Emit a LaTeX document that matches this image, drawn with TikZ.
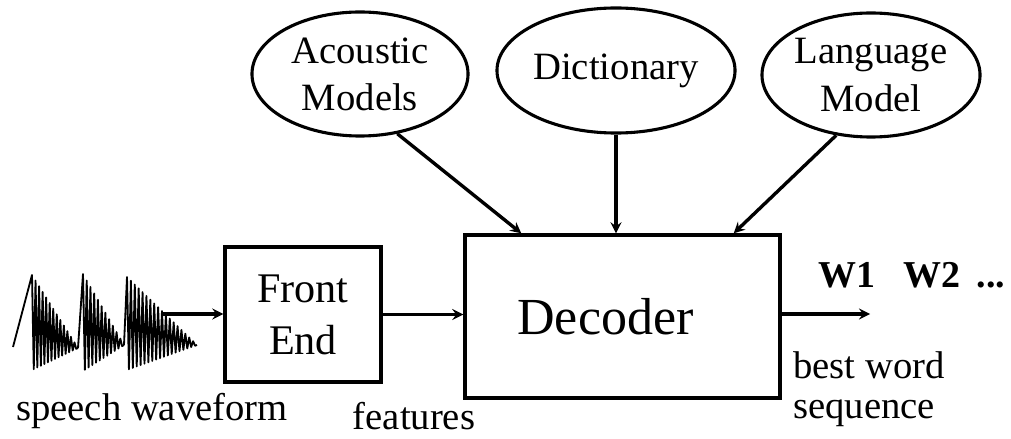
\documentclass[tikz,border=0pt]{standalone}
\usepackage{fontspec}
\setmainfont{Liberation Serif}
\usepackage{tikz}
\usetikzlibrary{shapes.geometric, arrows}
\tikzstyle{arrow} = [line width=2.4pt,->,>=stealth]
\tikzstyle{model} = [shape=ellipse,draw=black,line width=2.2pt,align=center,inner sep=0pt,font=\fontsize{27.5}{33.5}\selectfont]
\tikzstyle{block} = [shape=rectangle,draw=black,line width=2.4pt,align=center,inner sep=0pt]
\tikzstyle{plaintext} = [inner sep=0pt,font=\fontsize{27.5}{29}\selectfont]
\tikzstyle{wave} = [line width=1.3pt,line join=round]

\begin{document}
\begin{tikzpicture}[x=0.025cm,y=-0.025cm]
    \useasboundingbox (0,0) rectangle (1011,439);

    \node[model,minimum width=5.4cm,minimum height=3.1cm] (ac) at (360,74) {Acoustic\\Models};
    \node[model,minimum width=5.95cm,minimum height=3.125cm] (dict) at (616,70.5) {Dictionary};
    \node[model,minimum width=5.45cm,minimum height=3.1cm] (lm) at (871,75) {Language\\Model};

    \node[block,minimum width=3.9cm,minimum height=3.375cm,font=\fontsize{30}{37}\selectfont] (fe) at (303,314.5) {Front\\End};
    \node[block,minimum width=7.875cm,minimum height=4.075cm,font=\fontsize{37}{44}\selectfont] (dec) at (622.5,316.5) {Decoder\hspace*{0.85cm}};

    % speech waveform
    \foreach \xs/\ys/\xa/\xb/\ya/\yb/\ye/\n in {13/347/32/78/275/370/348/26, 78/348/83/124/274/371/345/22, 124/345/127/197/277/370/345/36}
        \draw[wave] (\xs,\ys) -- (\xa,\ya) \foreach \k in {1,...,\n} { -- ({\xa+\k*(\xb-\xa)/\n}, {mod(\k,2)*(\yb+(\ye-\yb)*\k/\n)+(1-mod(\k,2))*(\ya+(\ye-\ya)*\k/\n)}) };
    \coordinate (wave) at (163,314);
    \coordinate (out) at (870,314);

    \draw[arrow] (ac.-58) -- ([xshift=1.45cm]dec.north west);
    \draw[arrow] (dict.south) -- (dict.south |- dec.north);
    \draw[arrow] (lm.-120) -- ([xshift=-1.2cm]dec.north east);
    \draw[arrow] (wave) -- (wave -| fe.west);
    \draw[arrow] (fe.east) -- (fe.east -| dec.west);
    \draw[arrow] (out -| dec.east) -- (out);

    \node[plaintext,font=\fontsize{27}{30}\bfseries] (words) at (912,275) {W1\hspace{0.7cm}W2\hspace{0.4cm}...};
    \node[plaintext,align=left,anchor=north west] (best) at (793,351) {best word\\sequence};
    \node[plaintext] (speech) at (152,411) {speech waveform};
    \node[plaintext] (feat) at (414,416) {features};
\end{tikzpicture}
\end{document}
